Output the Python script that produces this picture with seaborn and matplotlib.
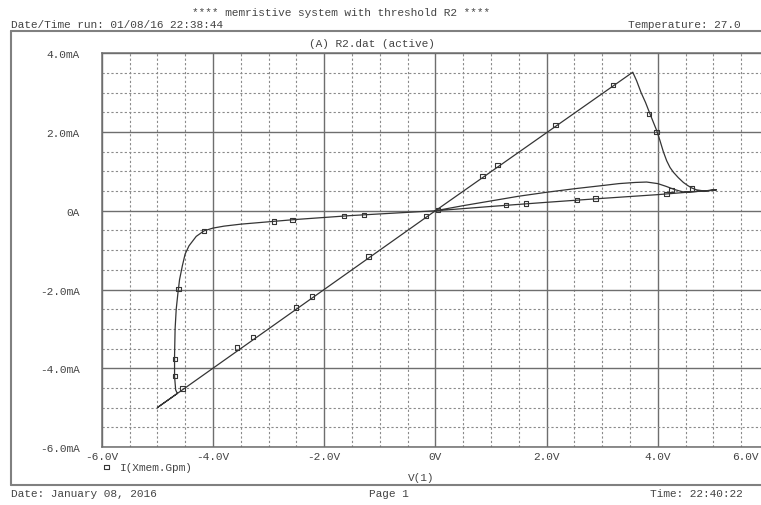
import matplotlib
matplotlib.use("Agg")
import matplotlib.pyplot as plt
import seaborn as sns
import numpy as np
from matplotlib.lines import Line2D
from matplotlib.ticker import MultipleLocator

# ---------------- data (V in volts, I in mA) ----------------
# first rise (thin branch) then off-state return
V_seg_a = [0.0, 0.5, 1.0, 1.5, 2.0, 2.5, 3.0, 3.3, 3.6, 3.8, 4.0, 4.15, 4.3, 4.45, 4.7, 5.05]
I_seg_a = [0.0, 0.13, 0.25, 0.37, 0.47, 0.56, 0.64, 0.69, 0.72, 0.73, 0.69, 0.62, 0.54, 0.48, 0.49, 0.53]
V_seg_b = [5.05, 4.0, 3.0, 2.0, 1.0, 0.0]
I_seg_b = [0.53, 0.41, 0.315, 0.215, 0.11, 0.0]
# negative sweep: off state, switching knee, on state
V_seg_c = [0.0, -0.5, -1.0, -1.5, -2.0, -2.5, -3.0, -3.5, -3.8, -4.0, -4.16, -4.3, -4.43, -4.5,
           -4.55, -4.6, -4.63, -4.66, -4.68, -4.69, -4.69, -4.67, -4.64, -5.0]
I_seg_c = [0.0, -0.04, -0.08, -0.12, -0.17, -0.22, -0.28, -0.34, -0.39, -0.44, -0.51, -0.65, -0.89, -1.1,
           -1.4, -1.75, -2.1, -2.5, -3.0, -3.7, -4.2, -4.55, -4.64, -5.0]
# on-state line up to the threshold, then switching back to off
V_seg_d = [-5.0, 0.0, 3.55]
I_seg_d = [-5.0, 0.0, 3.52]
V_seg_e = [3.55, 3.62, 3.7, 3.78, 3.86, 3.92, 3.98, 4.04, 4.1, 4.16, 4.22, 4.28, 4.37, 4.46, 4.54, 4.61, 4.7, 4.8, 4.92, 5.05]
I_seg_e = [3.52, 3.3, 3.0, 2.75, 2.46, 2.25, 2.04, 1.78, 1.5, 1.27, 1.1, 0.98, 0.84, 0.72, 0.64, 0.58, 0.53, 0.51, 0.51, 0.53]

# trace markers
V_marks = [-4.55, -3.57, -3.28, -2.51, -2.22, -1.2, -0.17, 0.85, 1.12, 2.16, 3.2,
           3.84, 3.98, 4.61,
           0.05, 1.27, 1.63, 2.55, 2.88, 4.16, 4.25,
           -1.28, -1.64, -2.57, -2.9, -4.16,
           -4.62, -4.68, -4.68]
I_marks = [-4.51, -3.47, -3.21, -2.46, -2.18, -1.16, -0.14, 0.88, 1.16, 2.18, 3.2,
           2.46, 2.0, 0.57,
           0.02, 0.145, 0.18, 0.27, 0.31, 0.42, 0.53,
           -0.1, -0.13, -0.23, -0.27, -0.51,
           -1.99, -3.76, -4.2]

x_ticks = [-6, -4, -2, 0, 2, 4, 6]
x_tick_labels = ["-6.0V", "-4.0V", "-2.0V", "0V", "2.0V", "4.0V", "6.0V"]
y_ticks = [-6, -4, -2, 0, 2, 4]
y_tick_labels = ["-6.0mA", "-4.0mA", "-2.0mA", "0A", "2.0mA", "4.0mA"]

V_trace = V_seg_a + V_seg_b + V_seg_c + V_seg_d + V_seg_e
I_trace = I_seg_a + I_seg_b + I_seg_c + I_seg_d + I_seg_e

# ---------------- style ----------------
sns.set_style("white")
plt.rcParams['font.family'] = ['Liberation Mono', 'DejaVu Sans Mono']
FS = 8
TXT = '#444444'

W, H = 761, 506
fig = plt.figure(figsize=(W / 100, H / 100), dpi=100)

def fx(px):
    return px / W

def fy(py):
    return 1 - py / H

ax = fig.add_axes([fx(101.7), fy(448), (769 - 101.7) / W, (448 - 54.3) / H])

ax.set_xlim(-6, 6)
ax.set_ylim(-6, 4)

sns.lineplot(x=V_trace, y=I_trace, sort=False, estimator=None, ax=ax,
             color='#353535', linewidth=0.9)
sns.scatterplot(x=V_marks, y=I_marks, ax=ax, marker='s', s=10,
                facecolor='none', edgecolor='#353535', linewidth=0.8,
                label='I(Xmem.Gpm)', zorder=4)

ax.set_xticks(x_ticks)
ax.set_xticklabels(x_tick_labels[:-1] + [""])
ax.set_yticks(y_ticks)
ax.set_yticklabels(y_tick_labels)
ax.xaxis.set_minor_locator(MultipleLocator(0.5))
ax.yaxis.set_minor_locator(MultipleLocator(0.5))

ax.grid(which='major', color='#6e6e6e', linewidth=1.0, linestyle='-')
ax.grid(which='minor', color='#8a8a8a', linewidth=0.8, linestyle=(0, (2, 2)))
ax.set_axisbelow(True)

ax.tick_params(axis='x', which='major', direction='out', length=3, pad=0,
               color='#6e6e6e', labelsize=FS, labelcolor=TXT)
ax.tick_params(axis='y', which='major', direction='out', length=5, pad=11,
               color='#6e6e6e', labelsize=FS, labelcolor=TXT)
ax.tick_params(which='minor', length=0)
for s in ['left', 'bottom', 'top', 'right']:
    ax.spines[s].set_color('#6e6e6e')
    ax.spines[s].set_linewidth(1.1)

# last tick label sits inside the visible page
ax.annotate("6.0V", xy=(6, 0), xycoords=('data', 'axes fraction'),
            xytext=(-17.3, -3.0), textcoords='offset points',
            ha='center', va='top', fontsize=FS, color=TXT, annotation_clip=False)

ax.set_xlabel("")
ax.set_ylabel("")

leg = ax.legend(loc='center left', bbox_to_anchor=(fx(102), fy(468)),
                bbox_transform=fig.transFigure, frameon=False, fontsize=FS,
                handlelength=0.8, handletextpad=0.8, borderpad=0, borderaxespad=0)
for t in leg.get_texts():
    t.set_color(TXT)

# ---------------- page texts ----------------
fig.text(fx(341), fy(13), "**** memristive system with threshold R2 ****",
         ha='center', va='center', fontsize=FS, color=TXT)
fig.text(fx(11), fy(25), "Date/Time run: 01/08/16 22:38:44",
         ha='left', va='center', fontsize=FS, color=TXT)
fig.text(fx(741), fy(25), "Temperature: 27.0",
         ha='right', va='center', fontsize=FS, color=TXT)
fig.text(fx(372), fy(44), "(A) R2.dat (active)",
         ha='center', va='center', fontsize=FS, color=TXT)
fig.text(fx(421), fy(478), "V(1)",
         ha='center', va='center', fontsize=FS, color=TXT)
fig.text(fx(11), fy(494), "Date: January 08, 2016",
         ha='left', va='center', fontsize=FS, color=TXT)
fig.text(fx(389), fy(494), "Page 1",
         ha='center', va='center', fontsize=FS, color=TXT)
fig.text(fx(743), fy(494), "Time: 22:40:22",
         ha='right', va='center', fontsize=FS, color=TXT)

# page frame
frame_kw = dict(transform=fig.transFigure, color='#808080', linewidth=1.5)
fig.add_artist(Line2D([fx(11), 1.0], [fy(32), fy(32)], **frame_kw))
fig.add_artist(Line2D([fx(11), fx(11)], [fy(32), fy(485.5)], **frame_kw))
fig.add_artist(Line2D([fx(11), 1.0], [fy(485.5), fy(485.5)], **frame_kw))

fig.savefig("out.png", dpi=100, facecolor='white')
